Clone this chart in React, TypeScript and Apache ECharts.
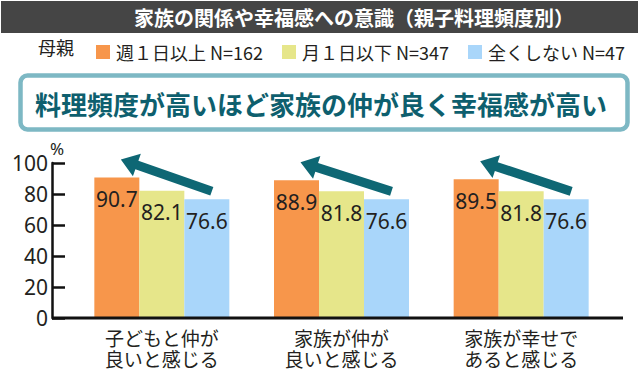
import React, { useEffect, useRef } from "react";
import * as echarts from "echarts";

const categories = ["子どもと仲が\n良いと感じる", "家族が仲が\n良いと感じる", "家族が幸せで\nあると感じる"];
const seriesNames = ["週１日以上 N=162", "月１日以下 N=347", "全くしない N=47"];
const weekly = [90.7, 88.9, 89.5];
const monthly = [82.1, 81.8, 81.8];
const never = [76.6, 76.6, 76.6];
const colors = ["#F7964B", "#E6E68A", "#A9D6FA"];
const yTicks = [0, 20, 40, 60, 80, 100];
const titleText = "家族の関係や幸福感への意識（親子料理頻度別）";
const bannerText = "料理頻度が高いほど家族の仲が良く幸福感が高い";
const legendLead = "母親";

const JP = "'Noto Sans CJK JP', 'Noto Sans', sans-serif";
const NUM = "'Noto Sans', Roboto, sans-serif";
const INK = "#231F20";

export default function App() {
  const ref = useRef<HTMLDivElement>(null);
  useEffect(() => {
    if (!ref.current) return;
    const chart = echarts.init(ref.current, null, { renderer: "svg" });
    const barLabel = {
      show: true,
      position: "insideTop",
      distance: 11,
      fontSize: 21,
      fontFamily: NUM,
      color: INK,
      formatter: (p: any) => Number(p.value).toFixed(1),
    };
    const allSeries = [weekly, monthly, never];
    const arrowData = categories.map((_, i) => [i, weekly[i], never[i]]);
    chart.setOption({
      animation: false,
      backgroundColor: "#ffffff",
      legend: {
        data: seriesNames,
        left: 91,
        top: 38,
        icon: "rect",
        itemWidth: 14,
        itemHeight: 14,
        itemGap: 19,
        textStyle: { fontSize: 18, fontFamily: JP, color: INK, padding: [0, 0, 0, 1] },
      },
      grid: { left: 72, right: 29, top: 163, bottom: 57 },
      xAxis: {
        type: "category",
        data: categories,
        axisLine: { show: false },
        axisTick: { show: false },
        axisLabel: {
          fontSize: 19,
          lineHeight: 21,
          fontFamily: JP,
          color: INK,
          margin: 9,
          interval: 0,
        },
      },
      yAxis: {
        type: "value",
        min: yTicks[0],
        max: yTicks[yTicks.length - 1],
        interval: yTicks[1] - yTicks[0],
        offset: 20,
        splitLine: { show: false },
        axisLine: { show: true, lineStyle: { color: "#111", width: 2.5 } },
        axisTick: { show: true, inside: true, length: 13, lineStyle: { color: "#111", width: 2.5 } },
        axisLabel: { fontSize: 21, fontFamily: NUM, color: INK, margin: 4 },
      },
      series: [
        ...allSeries.map((vals, k) => ({
          type: "bar",
          name: seriesNames[k],
          data: vals,
          barWidth: 45,
          barGap: "0%",
          itemStyle: { color: colors[k] },
          label: barLabel,
        })),
        {
          type: "custom",
          name: "arrow",
          data: arrowData,
          encode: { x: 0, y: [1, 2] },
          z: 5,
          renderItem: (params: any, api: any) => {
            const idx = api.value(0);
            const top = api.coord([idx, api.value(1)]);
            const low = api.coord([idx, api.value(2)]);
            const cx = top[0];
            const tip = [cx - 41, top[1] - 18];
            const tail = [cx + 50, low[1] - 8];
            const dx = tip[0] - tail[0];
            const dy = tip[1] - tail[1];
            const len = Math.sqrt(dx * dx + dy * dy);
            const ux = dx / len, uy = dy / len;
            const nx = -uy, ny = ux;
            const headLen = 17, headHalf = 12, sh = 4.6;
            const bx = tip[0] - ux * headLen, by = tip[1] - uy * headLen;
            const pts = [
              [tail[0] + nx * sh, tail[1] + ny * sh],
              [bx + nx * sh, by + ny * sh],
              [bx + nx * headHalf, by + ny * headHalf],
              [tip[0], tip[1]],
              [bx - nx * headHalf, by - ny * headHalf],
              [bx - nx * sh, by - ny * sh],
              [tail[0] - nx * sh, tail[1] - ny * sh],
            ];
            return { type: "polygon", shape: { points: pts }, style: { fill: "#0E6774" } };
          },
        },
      ],
      graphic: [
        { type: "rect", shape: { x: 1, y: 1, width: 637, height: 32 }, style: { fill: "#454545" } },
        {
          type: "text",
          x: 354,
          y: 17,
          style: { text: titleText, fontSize: 20, fontWeight: "bold", fontFamily: JP, fill: "#ffffff", align: "center", verticalAlign: "middle" },
        },
        {
          type: "text",
          x: 38,
          y: 47,
          style: { text: legendLead, fontSize: 18, fontFamily: JP, fill: INK, align: "left", verticalAlign: "middle" },
        },
        {
          type: "rect",
          shape: { x: 20.5, y: 75.5, width: 607, height: 54, r: 7 },
          style: { fill: "#ffffff", stroke: "#7DB8C4", lineWidth: 4.5 },
        },
        {
          type: "text",
          x: 321,
          y: 103.5,
          style: { text: bannerText, fontSize: 26, fontWeight: "bold", fontFamily: JP, fill: "#0E5F6E", align: "center", verticalAlign: "middle" },
        },
        {
          type: "text",
          x: 57,
          y: 148,
          style: { text: "%", fontSize: 17, fontFamily: NUM, fill: INK, align: "center", verticalAlign: "middle" },
        },
        {
          type: "line",
          shape: { x1: 52, y1: 318, x2: 623, y2: 318 },
          style: { stroke: "#111", lineWidth: 3 },
          z: 10,
        },
      ],
    });
    return () => chart.dispose();
  }, []);
  return <div ref={ref} style={{ position: "fixed", left: 0, top: 0, width: 640, height: 375 }} />;
}
